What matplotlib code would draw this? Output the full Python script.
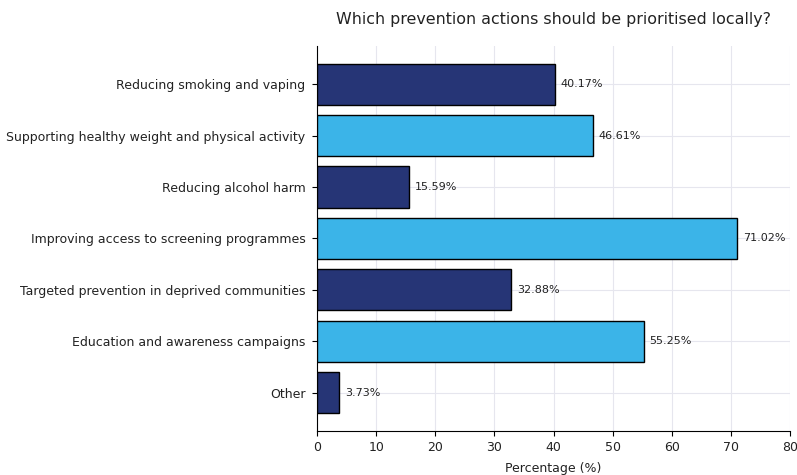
import matplotlib
matplotlib.use("Agg")
import matplotlib.pyplot as plt

categories = [
    "Reducing smoking and vaping",
    "Supporting healthy weight and physical activity",
    "Reducing alcohol harm",
    "Improving access to screening programmes",
    "Targeted prevention in deprived communities",
    "Education and awareness campaigns",
    "Other",
]
values = [40.17, 46.61, 15.59, 71.02, 32.88, 55.25, 3.73]

DARK = "#263576"
LIGHT = "#3bb4e8"
TEXT = "#222222"
colours = [DARK if i % 2 == 0 else LIGHT for i in range(len(values))]

fig = plt.figure(figsize=(7.97, 4.75), dpi=100)
ax = fig.add_axes([0.398, 0.093, 0.593, 0.81])

ypos = list(range(len(categories)))
ax.barh(ypos, values, height=0.8, color=colours, edgecolor="black", linewidth=1.0, zorder=3)
ax.set_yticks(ypos)
ax.set_yticklabels(categories, fontsize=9, color=TEXT)
ax.invert_yaxis()

for y, v in zip(ypos, values):
    ax.text(v + 1.0, y, "%.2f%%" % v, va="center", ha="left", fontsize=8, color=TEXT)

ax.set_xlim(0, 80)
ax.set_xticks(range(0, 81, 10))
ax.tick_params(axis="x", labelsize=9, labelcolor=TEXT)
ax.tick_params(axis="y", pad=5)
ax.set_xlabel("Percentage (%)", fontsize=9, color=TEXT, labelpad=6)
ax.grid(True, color="#e6e6ee", linewidth=0.8, zorder=0)
ax.spines["top"].set_visible(False)
ax.spines["right"].set_visible(False)

fig.text(0.694, 0.958, "Which prevention actions should be prioritised locally?",
         ha="center", va="center", fontsize=11.4, color=TEXT)

plt.savefig("out.png", dpi=100)
